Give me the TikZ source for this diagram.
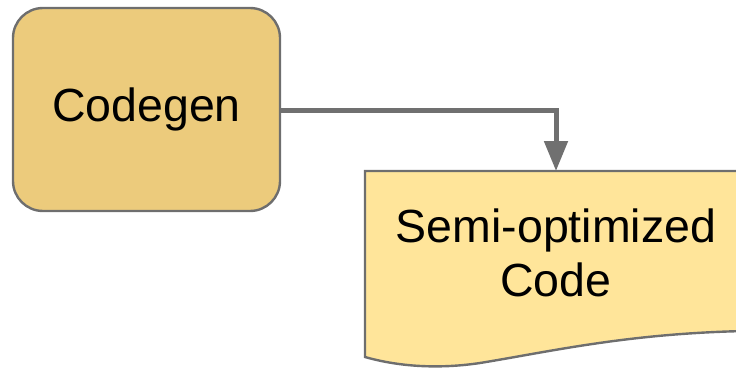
\documentclass[tikz,border=0pt]{standalone}
\usepackage{fontspec}
\setmainfont{Liberation Sans}
\usetikzlibrary{arrows.meta}
\definecolor{boxgold}{HTML}{ECCB7C}
\definecolor{docyellow}{HTML}{FFE59A}
\definecolor{edgegray}{HTML}{6E6E6E}
\definecolor{arrowgray}{HTML}{707070}
\tikzset{
  procbox/.style={draw=edgegray, line width=2.4pt, fill=boxgold, rounded corners=30pt,
    minimum width=267pt, minimum height=203pt, inner sep=0pt},
  bigtext/.style={font=\fontsize{46.5}{54}\selectfont, align=center},
  flow/.style={draw=arrowgray, line width=5pt, -{Triangle[width=23pt,length=30pt]}},
}
\begin{document}
\begin{tikzpicture}[x=1pt,y=-1pt]
  \useasboundingbox (0,0) rectangle (736,369);
  % process box
  \node[procbox, bigtext] (cg) at (146.5,109.5) {Codegen};
  % document shape with wavy bottom, running past the right edge
  \path[draw=edgegray, line width=2.4pt, fill=docyellow]
    (365,171) -- (800,171) -- (800,331)
    .. controls (650,328) and (560,350) .. (480,363)
    .. controls (440,369) and (400,367) .. (365,357) -- cycle;
  \coordinate (doctop) at (556,171);
  \node[bigtext] (doc) at (556,253) {Semi-optimized\\Code};
  % connector
  \draw[flow] (cg.east |- 0,110) -| (doctop);
\end{tikzpicture}
\end{document}
